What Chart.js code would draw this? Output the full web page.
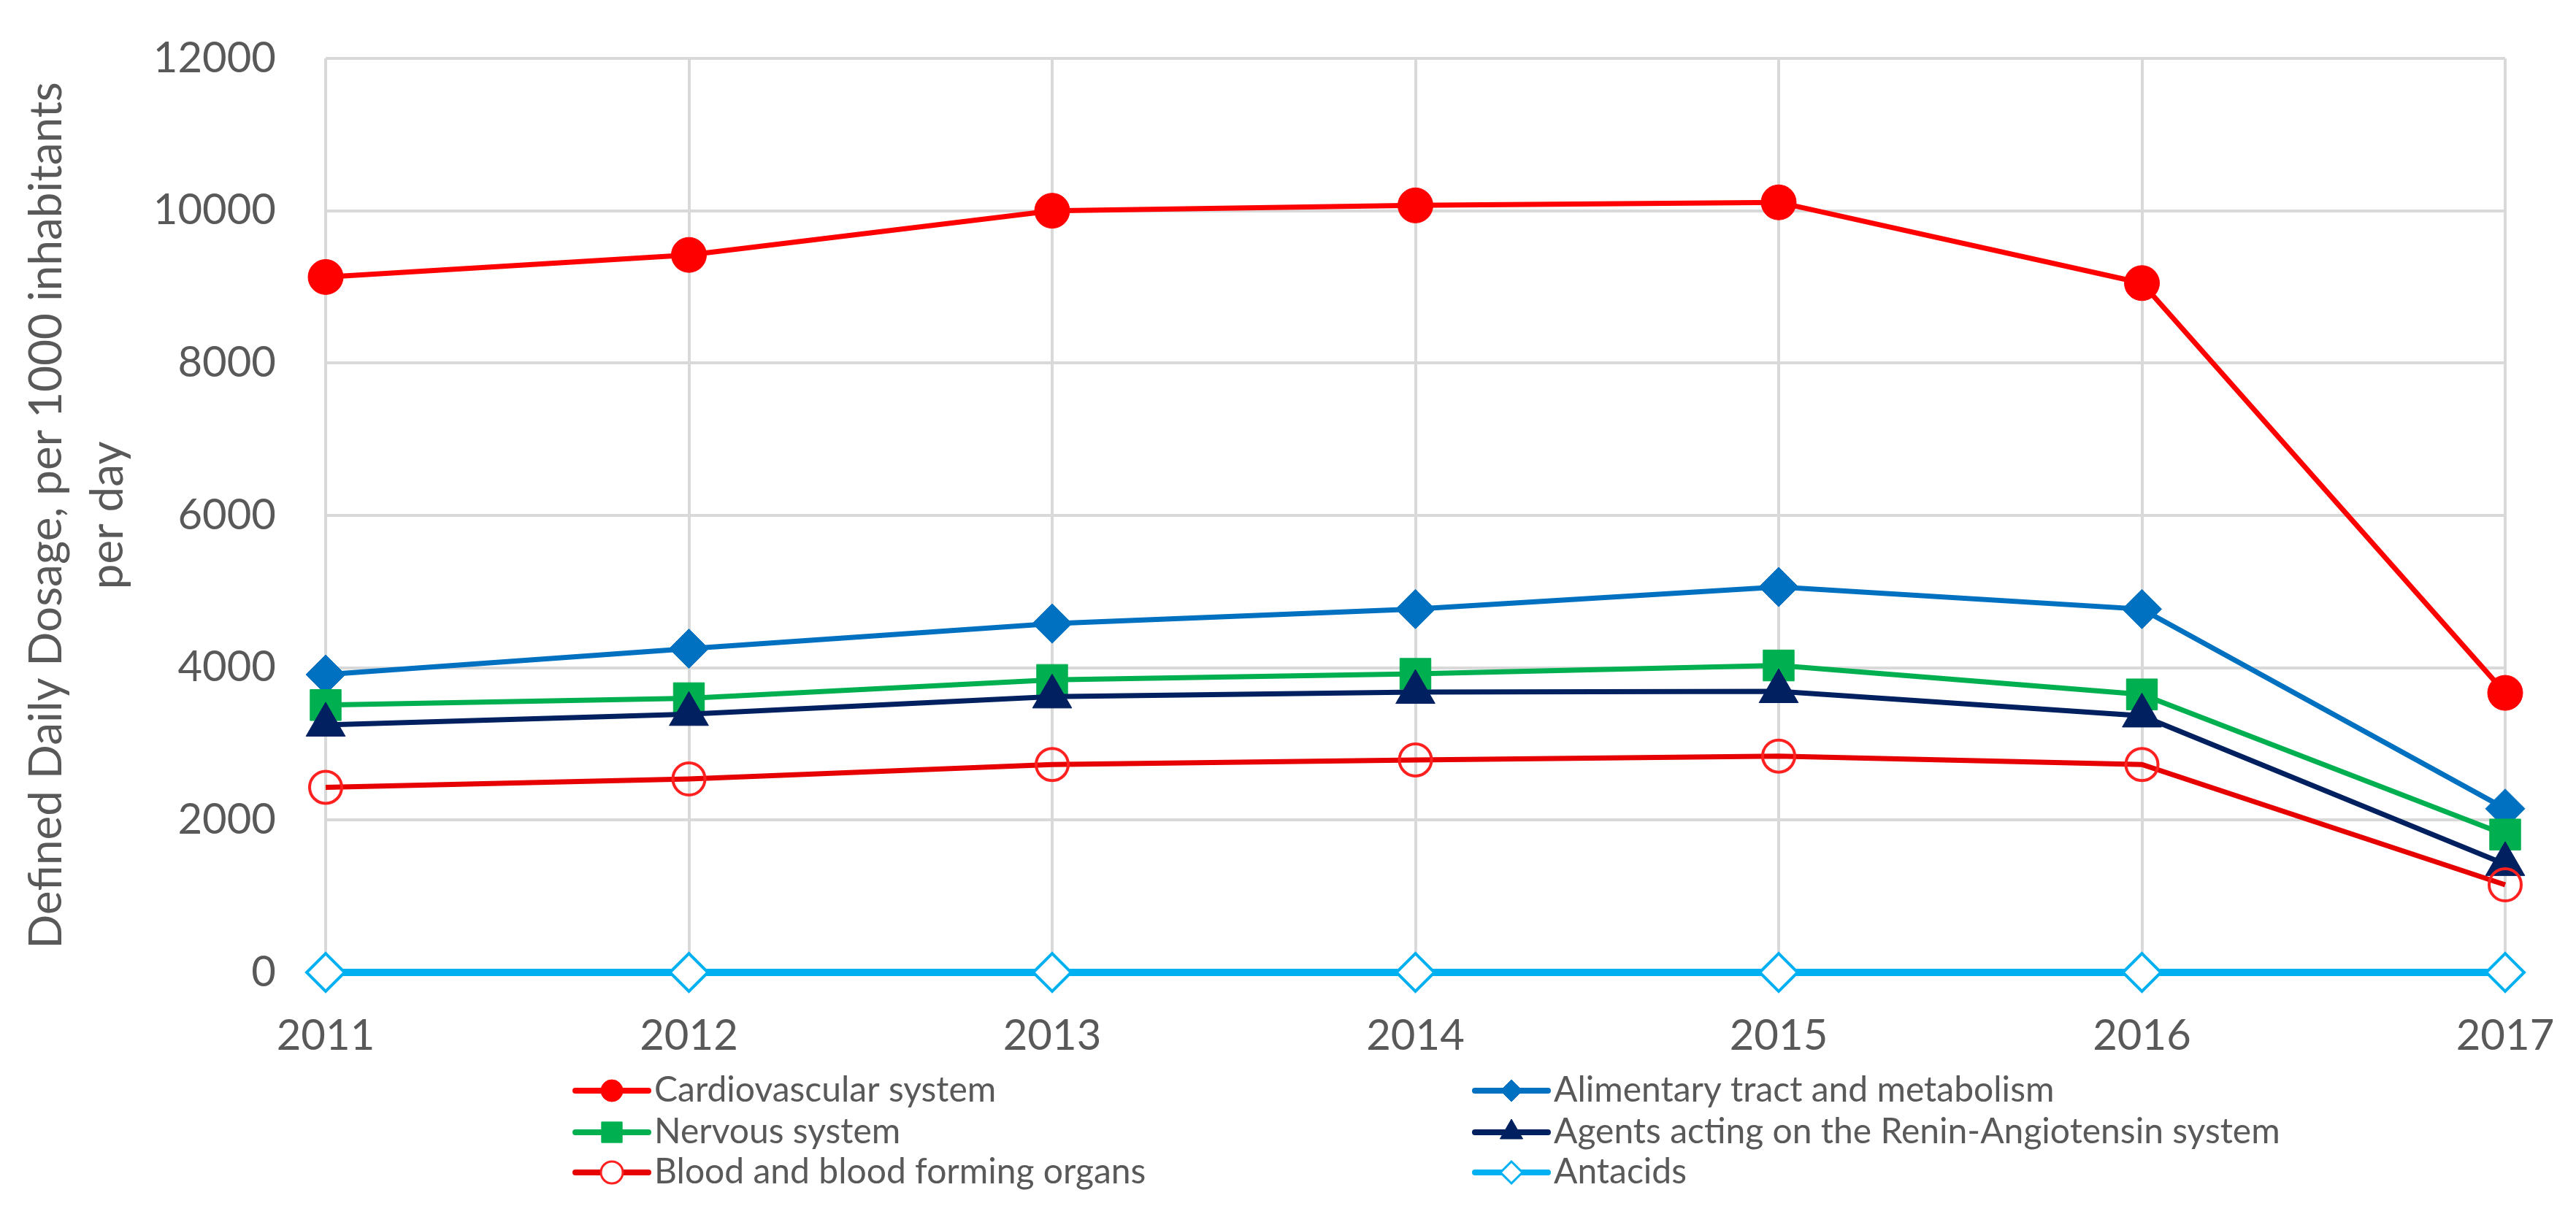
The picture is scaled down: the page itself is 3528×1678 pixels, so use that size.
<!DOCTYPE html>
<html>
<head>
<meta charset="utf-8">
<script src="https://cdn.jsdelivr.net/npm/chart.js@4/dist/chart.umd.min.js"></script>
<style>
html,body{margin:0;padding:0;background:#fff;}
#wrap{position:relative;width:3528px;height:1678px;}
canvas{display:block;}
</style>
</head>
<body>
<div id="wrap"><canvas id="c" width="3528" height="1678"></canvas></div>
<script>
const years = ['2011','2012','2013','2014','2015','2016','2017'];
const cardiovascular = [9130, 9420, 10000, 10070, 10110, 9050, 3670];
const alimentary = [3910, 4250, 4580, 4770, 5060, 4770, 2150];
const nervous = [3510, 3600, 3840, 3920, 4030, 3650, 1810];
const agents = [3250, 3390, 3620, 3680, 3690, 3370, 1420];
const blood = [2430, 2540, 2730, 2790, 2840, 2730, 1150];
const antacids = [0, 0, 0, 0, 0, 0, 0];
const yTicks = [0, 2000, 4000, 6000, 8000, 10000, 12000];

const FONT = 'Lato, "Open Sans", sans-serif';
const TXT = '#595959';

const series = [
  {label:'Cardiovascular system', data:cardiovascular, color:'#FF0000', fill:'#FF0000', style:'circle', r:24, bw:1, lw:7, col:0, row:0},
  {label:'Alimentary tract and metabolism', data:alimentary, color:'#0070C0', fill:'#0070C0', style:'rectRot', r:27, bw:1, lw:7, col:1, row:0},
  {label:'Nervous system', data:nervous, color:'#00B050', fill:'#00B050', style:'rect', r:30, bw:1, lw:7, col:0, row:1},
  {label:'Agents acting on the Renin-Angiotensin system', data:agents, color:'#002060', fill:'#002060', style:'triangle', r:31, bw:1, lw:7, col:1, row:1},
  {label:'Blood and blood forming organs', data:blood, color:'#E60000', fill:'rgba(255,255,255,0)', style:'circle', r:22, bw:4, lw:7, col:0, row:2, pcolor:'#FF2020'},
  {label:'Antacids', data:antacids, color:'#00B0F0', fill:'#FFFFFF', style:'rectRot', r:26, bw:4, lw:10, col:1, row:2}
];

const datasets = series.map(s => ({
  label: s.label,
  data: s.data,
  borderColor: s.color,
  backgroundColor: s.fill,
  pointStyle: s.style,
  pointRadius: s.r,
  pointBorderWidth: s.bw,
  pointBorderColor: s.pcolor || s.color,
  pointBackgroundColor: s.fill,
  borderWidth: s.lw,
  tension: 0,
  clip: false
}));
datasets.reverse();

const legendPlugin = {
  id: 'customLegend',
  afterDraw(chart) {
    const ctx = chart.ctx;
    const colX = [788, 2020];
    const rowY = [1494, 1551, 1606];
    ctx.save();
    series.forEach(s => {
      const x = colX[s.col], y = rowY[s.row];
      ctx.strokeStyle = s.color;
      ctx.lineWidth = 8;
      ctx.lineCap = 'round';
      ctx.beginPath();
      ctx.moveTo(x, y);
      ctx.lineTo(x + 100, y);
      ctx.stroke();
      ctx.lineCap = 'butt';
      const open = s.bw > 1;
      ctx.fillStyle = open ? '#FFFFFF' : s.fill;
      ctx.strokeStyle = s.pcolor || s.color;
      ctx.lineWidth = open ? 3 : 1;
      const rr = s.style === 'triangle' ? 18 : (s.style === 'rect' ? 20 : 15);
      Chart.helpers.drawPoint(ctx, {pointStyle: s.style, radius: rr, rotation: 0, borderWidth: ctx.lineWidth}, x + 50, y);
      ctx.fillStyle = TXT;
      ctx.font = '48px ' + FONT;
      ctx.textBaseline = 'middle';
      ctx.fillText(s.label, x + 108, y);
    });
    ctx.restore();
  }
};

new Chart(document.getElementById('c'), {
  type: 'line',
  data: { labels: years, datasets },
  options: {
    responsive: false,
    devicePixelRatio: 1,
    animation: false,
    layout: { padding: { top: 80, right: 97, bottom: 0, left: 0 } },
    plugins: { legend: { display: false }, tooltip: { enabled: false } },
    scales: {
      x: {
        offset: false,
        grid: { color: '#D9D9D9', lineWidth: 4, drawTicks: false },
        border: { display: false },
        ticks: { color: TXT, font: { family: FONT, size: 58 }, padding: 52, maxRotation: 0 },
        afterFit(scale) {
          scale.height = 1678 - 1332;
          scale.paddingLeft = 0; scale.paddingRight = 0; scale.paddingTop = 0; scale.paddingBottom = 0;
        }
      },
      y: {
        min: 0, max: 12000,
        afterBuildTicks(scale) { scale.ticks = yTicks.map(v => ({value: v})); },
        grid: { color: '#D9D9D9', lineWidth: 4, drawTicks: false },
        border: { display: false },
        ticks: { color: TXT, font: { family: FONT, size: 58 }, padding: 68, callback: v => String(v) },
        title: { display: true, text: ['Defined Daily Dosage, per 1000 inhabitants', 'per day'], color: TXT, font: { family: FONT, size: 62, lineHeight: 1.35 }, padding: { top: 22, bottom: 0 } },
        afterFit(scale) {
          scale.width = 446;
          scale.paddingLeft = 0; scale.paddingRight = 0; scale.paddingTop = 0; scale.paddingBottom = 0;
        }
      }
    }
  },
  plugins: [legendPlugin]
});
</script>
</body>
</html>
